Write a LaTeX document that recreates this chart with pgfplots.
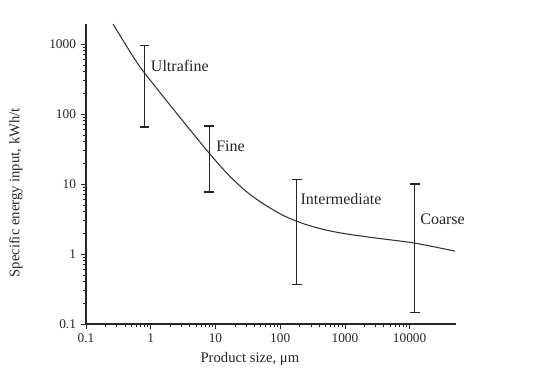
\documentclass[border=0pt]{standalone}
\usepackage{fontspec}
\setmainfont{Liberation Serif}
\usepackage{pgfplots}
\pgfplotsset{compat=1.18}
\begin{document}
\begin{tikzpicture}[x=0.75pt,y=0.75pt]
\useasboundingbox (0,0) rectangle (554,377);
\begin{axis}[
  at={(64.5pt,39.75pt)}, anchor=south west,
  scale only axis, width=277.5pt, height=225pt,
  xmode=log, ymode=log,
  xmin=0.1, xmax=52000, ymin=0.1, ymax=1930,
  axis x line*=bottom, axis y line*=left,
  axis line style={black!85, line width=0.8pt},
  tick align=outside,
  tick style={black!85, line width=0.6pt},
  major tick length=4pt, minor tick length=2.2pt,
  xtick={0.1,1,10,100,1000,10000},
  xticklabels={0.1,1,10,100,1000,10000},
  ytick={0.1,1,10,100,1000},
  yticklabels={0.1,1,10,100,1000},
  /pgf/number format/assume math mode=true,
  tick label style={font=\fontsize{10}{12}\selectfont, text=black!85},
  xlabel={Product size, μm},
  ylabel={Specific energy input, kWh/t},
  label style={font=\fontsize{11}{13}\selectfont, text=black!85},
  x label style={at={(axis description cs:0.443,-0.117)}, anchor=center},
  y label style={at={(axis description cs:-0.19,0.437)}, anchor=center, rotate=0},
  clip=false,
]
\addplot[black!80, line width=0.8pt, smooth, tension=0.5] coordinates {
  (0.261,1930) (0.44,880) (0.72,440) (2.24,117) (7.41,30) (14.8,14.5)
  (29.5,7.9) (58.9,5.0) (117.5,3.47) (234,2.69) (468,2.24) (1000,1.95)
  (3160,1.68) (12000,1.43) (50000,1.1)
};
\addplot[black!85, line width=0.8pt, mark=-, mark size=3.6pt, mark options={line width=1pt}] coordinates {(0.8,65) (0.8,960)};
\addplot[black!85, line width=0.8pt, mark=-, mark size=3.6pt, mark options={line width=1pt}] coordinates {(8,7.7) (8,67)};
\addplot[black!85, line width=0.8pt, mark=-, mark size=3.6pt, mark options={line width=1pt}] coordinates {(180,0.37) (180,11.5)};
\addplot[black!85, line width=0.8pt, mark=-, mark size=3.6pt, mark options={line width=1pt}] coordinates {(12000,0.145) (12000,10)};
\node[anchor=west, inner sep=0pt, font=\fontsize{12}{14}\selectfont, text=black!85] at (axis cs:1.0,490) {Ultrafine};
\node[anchor=west, inner sep=0pt, font=\fontsize{12}{14}\selectfont, text=black!85] at (axis cs:10.2,35) {Fine};
\node[anchor=west, inner sep=0pt, font=\fontsize{12}{14}\selectfont, text=black!85] at (axis cs:205,6.1) {Intermediate};
\node[anchor=west, inner sep=0pt, font=\fontsize{12}{14}\selectfont, text=black!85] at (axis cs:14500,3.16) {Coarse};
\end{axis}
\end{tikzpicture}
\end{document}
